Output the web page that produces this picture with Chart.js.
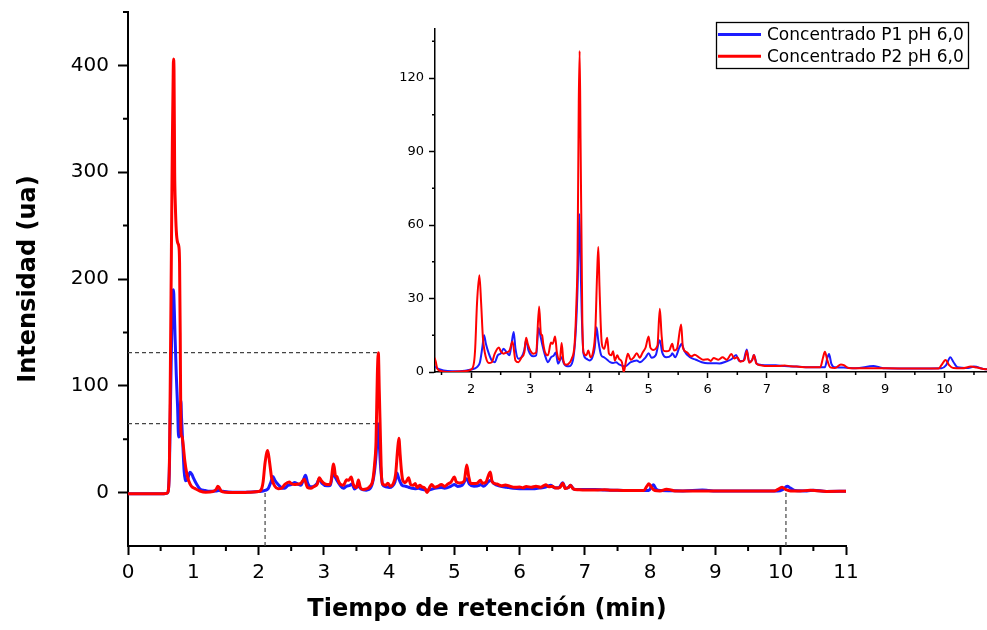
<!DOCTYPE html>
<html lang="es">
<head>
<meta charset="utf-8">
<title>Cromatograma</title>
<script src="https://cdn.jsdelivr.net/npm/chart.js@4.4.1/dist/chart.umd.min.js"></script>
<style>
  html, body { margin: 0; padding: 0; background: #fff; }
  #marco { position: relative; width: 987px; height: 630px; }
  #principal { position: absolute; left: 0; top: 0; }
  #detalle { position: absolute; left: 380px; top: 0; }
</style>
</head>
<body>
<div id="marco">
  <canvas id="principal" width="987" height="630"></canvas>
  <canvas id="detalle" width="607" height="400"></canvas>
</div>
<script>
// Concentrado P1 pH 6,0
const tiempoP1 = [
  0.00, 0.55, 0.60, 0.62, 0.635, 0.65, 0.67, 0.685, 0.697, 0.71, 0.72, 0.74, 0.76, 0.775, 0.79, 0.80, 0.81, 0.82, 0.84, 0.86,
  0.88, 0.91, 0.95, 0.98, 1.00, 1.05, 1.10, 1.18, 1.25, 1.35, 1.39, 1.45, 1.60, 1.80, 2.00, 2.10, 2.15, 2.19, 2.22, 2.25,
  2.30, 2.35, 2.40, 2.45, 2.50, 2.55, 2.60, 2.65, 2.68, 2.72, 2.75, 2.80, 2.85, 2.90, 2.93, 2.97, 3.05, 3.10, 3.14, 3.17,
  3.20, 3.25, 3.30, 3.35, 3.40, 3.43, 3.47, 3.53, 3.57, 3.65, 3.72, 3.77, 3.80, 3.83, 3.85, 3.87, 3.90, 3.95, 4.00, 4.05,
  4.09, 4.12, 4.15, 4.20, 4.25, 4.30, 4.35, 4.40, 4.45, 4.50, 4.60, 4.70, 4.80, 4.85, 4.95, 5.00, 5.05, 5.12, 5.19, 5.23,
  5.30, 5.38, 5.40, 5.45, 5.52, 5.56, 5.60, 5.70, 5.80, 5.90, 6.00, 6.10, 6.20, 6.30, 6.40, 6.48, 6.53, 6.60, 6.66, 6.70,
  6.75, 6.78, 6.83, 6.90, 7.00, 7.15, 7.30, 7.50, 7.80, 7.98, 8.02, 8.05, 8.09, 8.15, 8.30, 8.50, 8.80, 8.90, 9.00, 9.50,
  9.95, 10.03, 10.10, 10.15, 10.22, 10.40, 10.50, 10.70, 11.00
];
const intensidadP1 = [
  -1, -1, -0.5, 3, 25, 80, 150, 185, 190, 170, 148, 110, 80, 52, 53, 75, 86, 70, 45, 20,
  11, 12, 19, 17, 14, 8, 3.5, 2.0, 1.2, 1.5, 2, 1.3, 0.4, 0.3, 1, 2, 4, 10, 15, 11.5,
  7.5, 4.7, 4, 6.8, 7.5, 9.5, 8, 6.8, 10.8, 16.3, 9.5, 5.4, 6, 9, 13, 8.8, 6.4, 6.8, 18, 15,
  11.5, 6.8, 4, 6, 6.8, 8, 3.4, 6, 3.4, 2.3, 4.7, 17, 34.6, 64.5, 45, 24, 7.5, 5.4, 4.7, 6,
  10, 18.3, 12.9, 6.8, 6, 5, 4, 3.7, 4, 3.1, 2.3, 4, 4.7, 4, 6, 7.7, 5.8, 6.8, 13, 8,
  6, 6.8, 7.7, 6, 10, 11.5, 8.8, 6, 5, 4, 3.6, 3.6, 3.5, 4.2, 5.2, 6.9, 4.5, 4.5, 9.2, 4.2,
  4.8, 6.9, 3.3, 2.9, 2.8, 2.8, 2.4, 2.2, 1.9, 1.9, 5.6, 7.3, 3.3, 1.9, 1.8, 1.5, 2.4, 1.9, 1.5, 1.4,
  1.5, 2.8, 6, 4.2, 1.9, 1.6, 2.2, 1.1, 1.2
];

// Concentrado P2 pH 6,0
const tiempoP2 = [
  0.00, 0.55, 0.60, 0.62, 0.635, 0.65, 0.665, 0.68, 0.69, 0.697, 0.705, 0.715, 0.725, 0.74, 0.76, 0.78, 0.79, 0.80, 0.81, 0.82,
  0.83, 0.85, 0.87, 0.90, 0.93, 0.97, 1.03, 1.10, 1.19, 1.30, 1.35, 1.375, 1.40, 1.43, 1.50, 1.60, 1.80, 2.00, 2.05, 2.07,
  2.10, 2.14, 2.17, 2.20, 2.25, 2.30, 2.35, 2.40, 2.47, 2.50, 2.55, 2.60, 2.65, 2.70, 2.75, 2.80, 2.85, 2.90, 2.93, 2.96,
  3.00, 3.05, 3.10, 3.15, 3.18, 3.20, 3.22, 3.25, 3.30, 3.35, 3.38, 3.42, 3.45, 3.50, 3.53, 3.56, 3.60, 3.65, 3.70, 3.75,
  3.78, 3.80, 3.82, 3.835, 3.85, 3.87, 3.88, 3.90, 3.95, 3.98, 4.02, 4.06, 4.10, 4.13, 4.15, 4.17, 4.19, 4.21, 4.25, 4.30,
  4.33, 4.37, 4.40, 4.43, 4.47, 4.50, 4.55, 4.58, 4.62, 4.65, 4.70, 4.75, 4.80, 4.85, 4.90, 4.95, 5.00, 5.03, 5.08, 5.15,
  5.19, 5.22, 5.25, 5.30, 5.35, 5.40, 5.43, 5.48, 5.55, 5.58, 5.65, 5.72, 5.78, 5.85, 5.92, 6.00, 6.05, 6.10, 6.18, 6.25,
  6.32, 6.40, 6.45, 6.50, 6.55, 6.62, 6.66, 6.70, 6.75, 6.78, 6.82, 6.90, 7.00, 7.10, 7.20, 7.30, 7.40, 7.50, 7.70, 7.90,
  7.95, 7.98, 8.02, 8.07, 8.15, 8.25, 8.30, 8.38, 8.50, 9.00, 9.50, 9.90, 9.95, 10.02, 10.08, 10.15, 10.30, 10.45, 10.55, 10.70,
  11.00
];
const intensidadP2 = [
  -1, -1, -0.5, 3, 30, 120, 226, 330, 380, 406, 395, 300, 270, 245, 234, 230, 215, 150, 60, 53,
  52, 42, 30, 18, 11, 6, 3.7, 1.5, 0.3, 1.0, 3.0, 5.9, 4.5, 1.3, 0.3, 0.0, 0.2, 1.0, 4, 10,
  28, 39.5, 28, 14, 6, 3.7, 4, 7.5, 10, 8.5, 7.5, 8, 8.8, 12.5, 4.7, 4, 5.8, 8, 14, 11.3,
  8.8, 7.5, 8, 26.7, 15.6, 15, 11.5, 8, 6.8, 12, 11.5, 14.5, 8, 4.7, 11.8, 4.7, 3, 3.4, 5.4, 11.5,
  28, 48, 110, 131, 95, 45, 21, 8, 6.8, 8.8, 6, 8, 17, 40, 51, 35, 20, 11.5, 9.5, 14,
  7.5, 6.8, 8.5, 4.7, 6.8, 5.4, 4, 0, 4.7, 7.5, 5, 6, 7.7, 5.8, 8, 10, 14.5, 10, 9, 10.8,
  25.8, 15, 8.8, 8.5, 8.8, 11.5, 8.8, 9.5, 19.4, 10, 8, 6.4, 7, 6, 5, 5.2, 4.5, 5.7, 5, 6,
  5, 7.3, 5.5, 6, 4.2, 4.9, 8.7, 3.8, 4.9, 6.9, 3.5, 2.7, 2.4, 2.4, 2.4, 2.7, 2.3, 2.2, 1.9, 1.9,
  6, 8.3, 4.9, 1.9, 1.6, 3.1, 2.8, 1.6, 1.5, 1.5, 1.4, 1.4, 2.8, 4.9, 2.8, 1.6, 1.5, 2.2, 1.8, 1.1,
  1.2
];

// lineas guia punteadas que marcan la zona ampliada
const guiaNivel = [131, 64.5];
const guiaNivelHasta = 3.83;
const guiaTiempo = [2.1, 10.08];
const guiaTiempoTope = [0.3, 3.7];

// marcas de los ejes
const ticksX = [0, 1, 2, 3, 4, 5, 6, 7, 8, 9, 10, 11];
const menoresX = [0.5, 1.5, 2.5, 3.5, 4.5, 5.5, 6.5, 7.5, 8.5, 9.5, 10.5];
const ticksY = [0, 100, 200, 300, 400];
const menoresY = [50, 150, 250, 350, 450];
const ticksDetalleX = [2, 3, 4, 5, 6, 7, 8, 9, 10];
const menoresDetalleX = [1.5, 2.5, 3.5, 4.5, 5.5, 6.5, 7.5, 8.5, 9.5, 10.5];
const ticksDetalleY = [0, 30, 60, 90, 120];
const menoresDetalleY = [15, 45, 75, 105, 135];

const AZUL = 'rgb(28,28,255)';
const ROJO = 'rgb(255,0,0)';
const FUENTE = 'DejaVu Sans';

const puntos = (t, v) => t.map((x, i) => ({x: x, y: v[i]}));

// marcas menores (mas cortas) hacia fuera de los ejes
const marcasMenores = {
  id: 'marcasMenores',
  afterDraw(chart, args, opts) {
    const ctx = chart.ctx;
    const sx = chart.scales.x, sy = chart.scales.y;
    ctx.save();
    ctx.strokeStyle = '#000';
    ctx.lineWidth = opts.ancho;
    ctx.beginPath();
    opts.x.forEach(v => {
      const px = sx.getPixelForValue(v);
      ctx.moveTo(px, sx.top);
      ctx.lineTo(px, sx.top + opts.largo);
    });
    opts.y.forEach(v => {
      const py = sy.getPixelForValue(v);
      ctx.moveTo(sy.right, py);
      ctx.lineTo(sy.right - opts.largo, py);
    });
    ctx.stroke();
    ctx.restore();
  }
};

// leyenda con recuadro en la esquina superior derecha del detalle
const leyenda = {
  id: 'leyenda',
  afterDraw(chart) {
    const ctx = chart.ctx;
    const series = chart.data.datasets.filter(d => d.label);
    const x0 = chart.chartArea.right - 271, y0 = 22, ancho = 252, alto = 46;
    ctx.save();
    ctx.fillStyle = '#fff';
    ctx.fillRect(x0, y0, ancho, alto);
    ctx.strokeStyle = '#000';
    ctx.lineWidth = 1.3;
    ctx.strokeRect(x0 + 0.5, y0 + 0.5, ancho, alto);
    ctx.font = '17px "' + FUENTE + '"';
    ctx.textBaseline = 'middle';
    ctx.fillStyle = '#000';
    series.forEach((d, i) => {
      const y = y0 + 12.5 + i * 21.7;
      ctx.strokeStyle = d.borderColor;
      ctx.lineWidth = 3;
      ctx.beginPath();
      ctx.moveTo(x0 + 2, y);
      ctx.lineTo(x0 + 45, y);
      ctx.stroke();
      ctx.fillText(d.label, x0 + 51, y + 1);
    });
    ctx.restore();
  }
};

function escala(opc) {
  return {
    type: 'linear',
    min: opc.min,
    max: opc.max,
    position: opc.position,
    afterBuildTicks: s => { s.ticks = opc.ticks.map(v => ({value: v})); },
    afterFit: s => {
      if (opc.position === 'left') s.width = opc.tam; else s.height = opc.tam;
      s.paddingTop = 0; s.paddingBottom = 0; s.paddingLeft = 0; s.paddingRight = 0;
    },
    ticks: {
      color: '#000',
      font: {family: FUENTE, size: opc.fuente},
      padding: opc.pad,
      autoSkip: false,
      maxRotation: 0
    },
    grid: {
      drawOnChartArea: false,
      drawTicks: true,
      tickLength: opc.largo,
      tickWidth: opc.ancho,
      tickColor: '#000'
    },
    border: {display: true, color: '#000', width: opc.ancho},
    title: opc.titulo ? {
      display: true,
      text: opc.titulo,
      color: '#000',
      font: {family: FUENTE, size: 24, weight: 'bold'},
      padding: opc.tituloPad
    } : {display: false}
  };
}

function guias() {
  const d = [];
  guiaNivel.forEach(v => d.push([{x: 0, y: v}, {x: guiaNivelHasta, y: v}]));
  guiaTiempo.forEach((t, i) => d.push([{x: t, y: -50}, {x: t, y: guiaTiempoTope[i]}]));
  return d.map(p => ({
    data: p,
    borderColor: '#444',
    borderWidth: 1.2,
    borderDash: [4, 3],
    pointRadius: 0,
    order: 3
  }));
}

// trazo suave sin sobrepasar los picos
const curva = (label, t, v, color, ancho, orden) => ({
  label: label,
  data: puntos(t, v),
  borderColor: color,
  borderWidth: ancho,
  pointRadius: 0,
  cubicInterpolationMode: 'monotone',
  borderJoinStyle: 'round',
  order: orden
});

new Chart(document.getElementById('principal'), {
  type: 'line',
  data: {
    datasets: [
      curva('Concentrado P1 pH 6,0', tiempoP1, intensidadP1, AZUL, 3, 2),
      curva('Concentrado P2 pH 6,0', tiempoP2, intensidadP2, ROJO, 3, 1)
    ].concat(guias())
  },
  options: {
    responsive: false,
    animation: false,
    devicePixelRatio: 1,
    layout: {padding: {left: 0, top: 12, right: 141, bottom: 0}},
    scales: {
      x: escala({min: 0, max: 11, position: 'bottom', ticks: ticksX, tam: 84, fuente: 20, pad: 6, largo: 9, ancho: 2,
        titulo: 'Tiempo de retención (min)', tituloPad: {top: 0, bottom: 6}}),
      y: escala({min: -50, max: 450, position: 'left', ticks: ticksY, tam: 128, fuente: 20, pad: 9, largo: 10, ancho: 2,
        titulo: 'Intensidad (ua)', tituloPad: {top: 14, bottom: 0}})
    },
    plugins: {
      legend: {display: false},
      tooltip: {enabled: false},
      marcasMenores: {x: menoresX, y: menoresY, largo: 5, ancho: 2}
    }
  },
  plugins: [marcasMenores]
});

new Chart(document.getElementById('detalle'), {
  type: 'line',
  data: {
    datasets: [
      curva('Concentrado P1 pH 6,0', tiempoP1, intensidadP1, AZUL, 2, 2),
      curva('Concentrado P2 pH 6,0', tiempoP2, intensidadP2, ROJO, 2, 1)
    ]
  },
  options: {
    responsive: false,
    animation: false,
    devicePixelRatio: 1,
    layout: {padding: {left: 0, top: 29, right: 0, bottom: 0}},
    scales: {
      x: escala({min: 1.39, max: 10.72, position: 'bottom', ticks: ticksDetalleX, tam: 28, fuente: 13, pad: 4, largo: 6, ancho: 1.5}),
      y: escala({min: 0, max: 140, position: 'left', ticks: ticksDetalleY, tam: 55, fuente: 13, pad: 5, largo: 6, ancho: 1.5})
    },
    plugins: {
      legend: {display: false},
      tooltip: {enabled: false},
      marcasMenores: {x: menoresDetalleX, y: menoresDetalleY, largo: 3, ancho: 1.5}
    }
  },
  plugins: [marcasMenores, leyenda]
});
</script>
</body>
</html>
